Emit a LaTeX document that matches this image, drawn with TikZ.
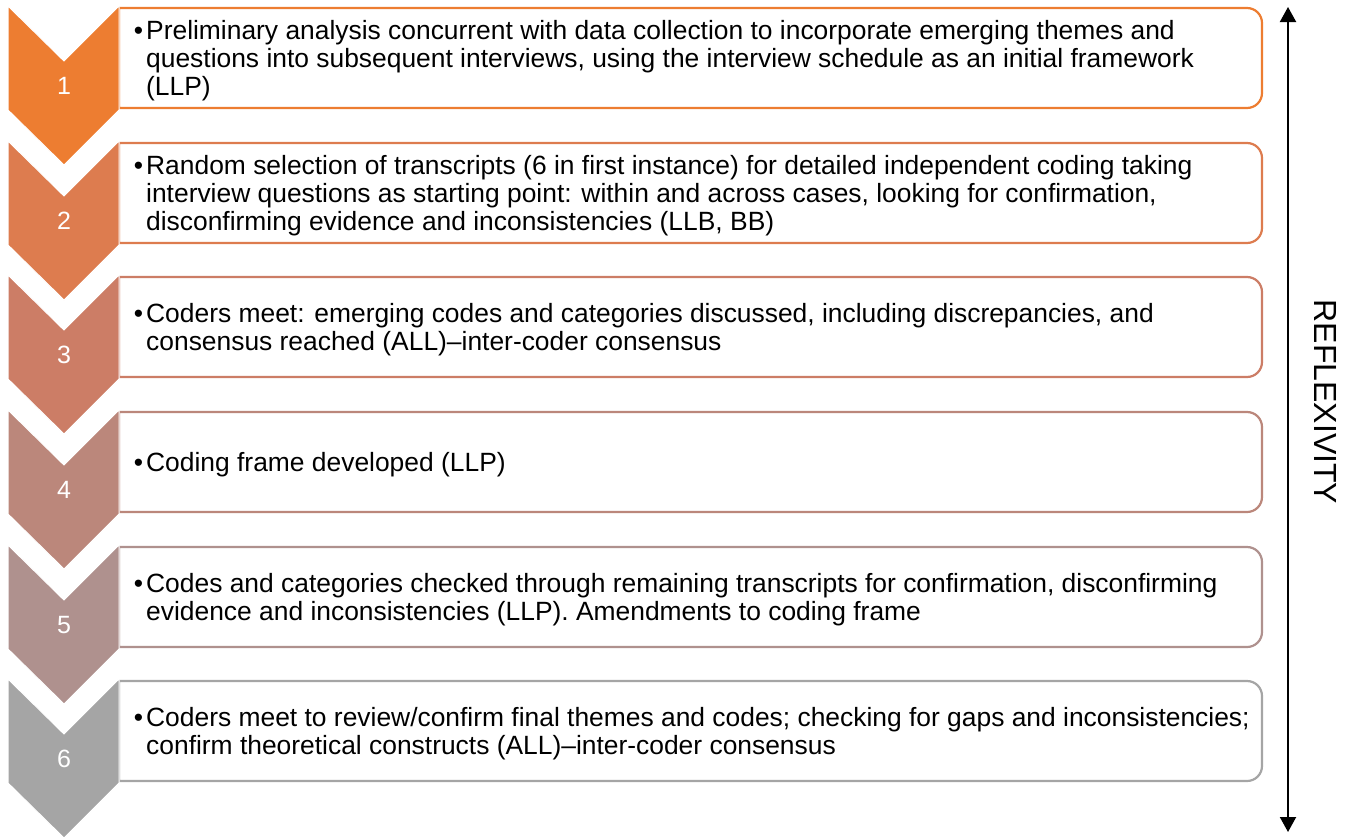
\documentclass[tikz,border=0pt]{standalone}
\usepackage{fontspec}
\setmainfont{Liberation Sans}
\usetikzlibrary{arrows.meta}
\definecolor{c1}{HTML}{ED7D31}
\definecolor{c2}{HTML}{DD7C4F}
\definecolor{c3}{HTML}{CC7D66}
\definecolor{c4}{HTML}{BB877B}
\definecolor{c5}{HTML}{AF918E}
\definecolor{c6}{HTML}{A5A5A5}
\newcommand{\stagebox}[2]{%
  \draw[boxline, draw=#2] (119,#1+2) -- (1247,#1+2)
    .. controls (1255.3,#1+2) and (1262,#1+8.7) .. (1262,#1+17)
    -- (1262,#1+87)
    .. controls (1262,#1+95.3) and (1255.3,#1+102) .. (1247,#1+102)
    -- (119,#1+102) -- cycle;
  \fill[#2, draw=white, line width=1pt] (8,#1) -- (64,#1+55) -- (119,#1) -- (119,#1+104)
    -- (64,#1+159) -- (8,#1+104) -- cycle;
}
\tikzset{
  boxline/.style={line width=2.2pt, fill=white},
  numtext/.style={text=white, font=\fontsize{25}{28}\selectfont, inner sep=0pt},
  bodytext/.style={anchor=west, align=left, inner sep=0pt, font=\fontsize{26.4}{28}\selectfont, text=black},
}
\newcommand{\bul}{\llap{\textbullet\hspace{3pt}}}
\begin{document}
\begin{tikzpicture}[x=1pt,y=-1pt]
\useasboundingbox (0,0) rectangle (1350,838);
\stagebox{6}{c1}
\stagebox{141}{c2}
\stagebox{275}{c3}
\stagebox{410}{c4}
\stagebox{545}{c5}
\stagebox{679}{c6}
\node[numtext] (n1) at (64,86) {1};
\node[numtext] (n2) at (64,221) {2};
\node[numtext] (n3) at (64,355) {3};
\node[numtext] (n4) at (64,490) {4};
\node[numtext] (n5) at (64,625) {5};
\node[numtext] (n6) at (64,759) {6};
\node[bodytext] (t1) at (146,61) {\bul Preliminary analysis concurrent with data collection to incorporate emerging themes and\\questions into subsequent interviews, using the interview schedule as an initial framework\\(LLP)};
\node[bodytext] (t2) at (146,196) {\bul Random selection of transcripts (6 in first instance) for detailed independent coding taking\\interview questions as starting point: within and across cases, looking for confirmation,\\disconfirming evidence and inconsistencies (LLB, BB)};
\node[bodytext] (t3) at (146,330) {\bul Coders meet: emerging codes and categories discussed, including discrepancies, and\\consensus reached (ALL)–inter-coder consensus};
\node[bodytext] (t4) at (146,465) {\bul Coding frame developed (LLP)};
\node[bodytext] (t5) at (146,600) {\bul Codes and categories checked through remaining transcripts for confirmation, disconfirming\\evidence and inconsistencies (LLP). Amendments to coding frame};
\node[bodytext] (t6) at (146,734) {\bul Coders meet to review/confirm final themes and codes; checking for gaps and inconsistencies;\\confirm theoretical constructs (ALL)–inter-coder consensus};
\coordinate (atop) at (1288,7);
\coordinate (abot) at (1288,832);
\draw[line width=2pt, {Triangle[width=16pt,length=15pt]}-{Triangle[width=16pt,length=15pt]}] (atop) -- (abot);
\node[rotate=-90, inner sep=0pt, font=\fontsize{32}{35}\selectfont] (refl) at (1325,402) {REFLEXIVITY};
\end{tikzpicture}
\end{document}
